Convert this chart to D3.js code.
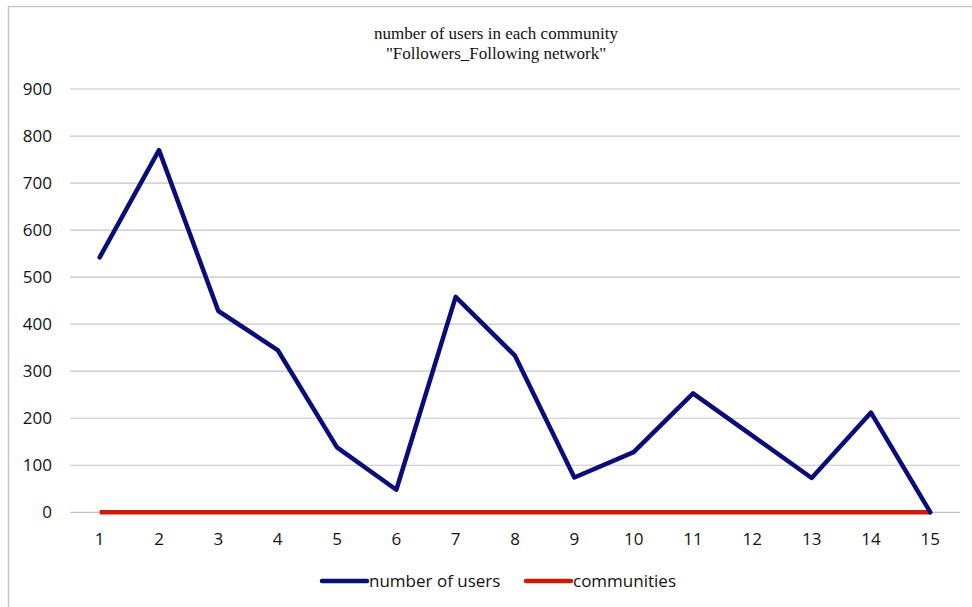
<!DOCTYPE html>
<html>
<head>
<meta charset="utf-8">
<script src="https://cdn.jsdelivr.net/npm/d3@7"></script>
<style>
  body { margin: 0; background: #fff; }
</style>
</head>
<body>
<div id="chart"></div>
<script>
const categories = [1, 2, 3, 4, 5, 6, 7, 8, 9, 10, 11, 12, 13, 14, 15]
const users = [542, 770, 428, 345, 138, 48, 458, 333, 74, 128, 253, 163, 73, 212, 0]
const communities = [0, 0, 0, 0, 0, 0, 0, 0, 0, 0, 0, 0, 0, 0, 0]
const yTicks = [0, 100, 200, 300, 400, 500, 600, 700, 800, 900]
const titleLines = ['number of users in each community', '"Followers_Following network"']

const width = 972
const height = 607
const margin = {top: 89, right: 12, bottom: 94, left: 70}

const svg = d3.select('#chart')
              .append('svg')
                .attr('width', width)
                .attr('height', height)

// chart frame: only top and left edges fall inside the picture
svg.append('path')
  .attr('d', 'M8.5,' + height + 'V6.5H' + width)
  .attr('fill', 'none')
  .attr('stroke', '#c8c8c8')
  .attr('stroke-width', 1.5)

const x = d3.scaleBand()
  .domain(categories)
  .range([margin.left, width - margin.right])

const y = d3.scaleLinear()
  .domain([0, 900])
  .range([height - margin.bottom - 0.7, margin.top])

// grid lines
svg.append('g')
  .selectAll('line')
  .data(yTicks)
  .join('line')
    .attr('x1', margin.left)
    .attr('x2', width - margin.right)
    .attr('y1', d => y(d))
    .attr('y2', d => y(d))
    .attr('stroke', '#c4c4c4')
    .attr('stroke-width', 1.2)

const yAxis = svg.append('g')
  .attr('transform', 'translate(' + (margin.left - 18) + ',0)')
  .call(d3.axisLeft(y).tickValues(yTicks).tickSize(0).tickPadding(0))
yAxis.select('.domain').remove()
yAxis.selectAll('text')
  .attr('font-family', '"Open Sans", sans-serif')
  .attr('font-size', 17)
  .attr('fill', '#111')

const xAxis = svg.append('g')
  .attr('transform', 'translate(0,' + (y(0) + 21) + ')')
  .call(d3.axisBottom(x).tickSize(0).tickPadding(0))
xAxis.select('.domain').remove()
xAxis.selectAll('text')
  .attr('font-family', '"Open Sans", sans-serif')
  .attr('font-size', 17)
  .attr('fill', '#111')

const line = d3.line()
  .x((d, i) => x(categories[i]) + x.bandwidth() / 2)
  .y(d => y(d))

svg.append('path')
  .datum(communities)
  .attr('fill', 'none')
  .attr('stroke', '#d01a08')
  .attr('stroke-width', 4.5)
  .attr('d', line)

svg.append('path')
  .datum(users)
  .attr('fill', 'none')
  .attr('stroke', '#0a0c78')
  .attr('stroke-width', 4.5)
  .attr('stroke-linejoin', 'round')
  .attr('stroke-linecap', 'round')
  .attr('d', line)

// title
svg.append('g')
  .selectAll('text')
  .data(titleLines)
  .join('text')
    .attr('x', 496)
    .attr('y', (d, i) => 39 + i * 20)
    .attr('text-anchor', 'middle')
    .attr('font-family', '"Liberation Serif", serif')
    .attr('font-size', 17)
    .attr('fill', '#111')
    .text(d => d)

// legend
const legendItems = [
  {name: 'number of users', color: '#0a0c78', x: 322},
  {name: 'communities', color: '#d01a08', x: 526}
]
const legend = svg.append('g')
  .selectAll('g')
  .data(legendItems)
  .join('g')
    .attr('transform', d => 'translate(' + d.x + ',581)')
legend.append('line')
  .attr('x1', 0)
  .attr('x2', 45)
  .attr('stroke', d => d.color)
  .attr('stroke-width', 4.5)
  .attr('stroke-linecap', 'round')
legend.append('text')
  .attr('x', 47)
  .attr('dy', '0.35em')
  .attr('font-family', '"Open Sans", sans-serif')
  .attr('font-size', 17)
  .attr('fill', '#111')
  .text(d => d.name)
</script>
</body>
</html>
